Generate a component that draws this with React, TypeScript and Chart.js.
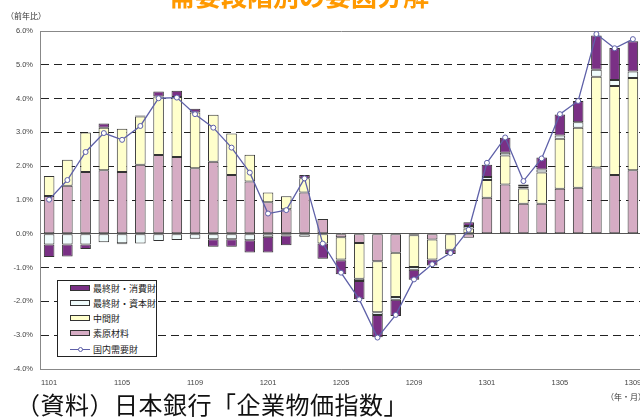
import React, { useEffect, useRef } from 'react';
import { Chart, registerables } from 'chart.js';
Chart.register(...registerables);

const months = [
  '1101', '1102', '1103', '1104', '1105', '1106', '1107', '1108', '1109', '1110', '1111', '1112',
  '1201', '1202', '1203', '1204', '1205', '1206', '1207', '1208', '1209', '1210', '1211', '1212',
  '1301', '1302', '1303', '1304', '1305', '1306', '1307', '1308', '1309',
];

// 素原材料
const rawMaterials = [
  1.12, 1.42, 1.83, 1.88, 1.83, 2.04, 2.33, 2.27, 1.94, 2.13, 1.74, 1.55,
  0.93, 0.73, 1.22, 0.44, -0.10, -0.27, -0.81, -0.56, -0.04, -0.17, null, -0.12,
  1.07, 1.46, 0.89, 0.89, 1.33, 1.36, 1.96, 1.74, 1.88,
];
// 中間財
const intermediate = [
  0.59, 0.77, 1.17, 1.26, 1.28, 1.43, 1.73, 1.78, 1.65, 1.39, 1.23, 0.79,
  0.29, 0.38, 0.42, -0.29, -0.66, -1.06, -1.51, -1.31, -0.94, -0.59, -0.47, 0.16,
  0.52, 0.86, 0.45, 0.92, 1.48, 1.78, 2.69, 2.63, 2.73,
];
// 最終財・資本財
const capitalGoods = [
  -0.32, -0.32, -0.32, -0.25, -0.28, -0.29, -0.21, -0.18, -0.15, -0.16, -0.16, -0.19,
  -0.09, -0.05, -0.09, null, -0.02, -0.07, -0.08, -0.08, -0.08, null, null, 0.07,
  0.09, 0.08, 0.06, 0.09, 0.10, 0.16, 0.20, 0.18, 0.19,
];
// 最終財・消費財
const consumerGoods = [
  -0.37, -0.35, -0.13, 0.12, -0.03, 0.03, 0.15, 0.18, 0.11, -0.22, -0.22, -0.36,
  -0.46, -0.29, 0.10, -0.45, -0.42, -0.54, -0.66, -0.48, -0.30, -0.18, -0.13, 0.11,
  0.36, 0.44, 0.06, 0.36, 0.62, 0.63, 1.02, 0.95, 0.90,
];
// 国内需要財
const domesticDemand = [
  1.01, 1.59, 2.42, 2.98, 2.78, 3.19, 4.01, 4.03, 3.54, 3.14, 2.55, 1.81,
  0.60, 0.70, 1.64, -0.29, -1.15, -1.94, -3.07, -2.40, -1.35, -0.90, -0.57, 0.12,
  2.10, 2.85, 1.56, 2.23, 3.54, 3.93, 5.91, 5.49, 5.76,
];

const yMin = -4;
const yMax = 6;

const COLORS = {
  consumer: '#7a3085',
  capital: '#f0fcfc',
  intermediate: '#ffffcc',
  raw: '#d6acc4',
  line: '#5e60a8',
};

const legendItems = [
  { label: '最終財・消費財', color: COLORS.consumer, type: 'box' },
  { label: '最終財・資本財', color: COLORS.capital, type: 'box' },
  { label: '中間財', color: COLORS.intermediate, type: 'box' },
  { label: '素原材料', color: COLORS.raw, type: 'box' },
  { label: '国内需要財', color: COLORS.line, type: 'line' },
];

const tickFont = { family: "'Liberation Sans', Arial, sans-serif", size: 7.5 };
const jpFont = "'Noto Sans CJK JP', 'Noto Sans', sans-serif";

export default function App() {
  const canvasRef = useRef<HTMLCanvasElement | null>(null);

  useEffect(() => {
    const canvas = canvasRef.current;
    if (!canvas) return;
    const barCommon = {
      type: 'bar' as const,
      stack: 'bars',
      borderColor: '#333',
      borderWidth: 1,
      borderSkipped: false as const,
      barPercentage: 0.58,
      categoryPercentage: 1.0,
      order: 1,
    };
    const chart = new Chart(canvas, {
      type: 'bar',
      data: {
        labels: months,
        datasets: [
          {
            type: 'line',
            label: '国内需要財',
            data: domesticDemand,
            stack: 'line',
            borderColor: COLORS.line,
            borderWidth: 1.3,
            pointRadius: 2.5,
            pointBackgroundColor: '#ffffff',
            pointBorderColor: COLORS.line,
            pointBorderWidth: 1,
            tension: 0,
            order: 0,
          } as any,
          { ...barCommon, label: '素原材料', data: rawMaterials, backgroundColor: COLORS.raw },
          { ...barCommon, label: '中間財', data: intermediate, backgroundColor: COLORS.intermediate },
          { ...barCommon, label: '最終財・資本財', data: capitalGoods, backgroundColor: COLORS.capital },
          { ...barCommon, label: '最終財・消費財', data: consumerGoods, backgroundColor: COLORS.consumer },
        ],
      },
      options: {
        responsive: false,
        animation: false,
        devicePixelRatio: 1,
        layout: { padding: { top: 31, right: 18, left: 0, bottom: 0 } },
        plugins: { legend: { display: false }, tooltip: { enabled: false }, title: { display: false } },
        scales: {
          x: {
            stacked: true,
            grid: { display: false, drawTicks: false },
            border: { display: true, color: '#888', width: 1 },
            ticks: {
              autoSkip: false,
              maxRotation: 0,
              minRotation: 0,
              padding: 9,
              color: '#444',
              font: tickFont,
              callback: (_v: any, i: number) => (i % 4 === 0 ? months[i] : ''),
            },
            afterFit: (s: any) => {
              s.height = 48;
            },
          },
          y: {
            stacked: true,
            min: yMin,
            max: yMax,
            ticks: {
              stepSize: 1,
              padding: 7,
              color: '#444',
              font: tickFont,
              callback: (v: any) => Number(v).toFixed(1) + '%',
            },
            grid: {
              drawTicks: false,
              lineWidth: 1,
              color: (ctx: any) => {
                const v = ctx.tick ? ctx.tick.value : null;
                if (v === 0) return '#555';
                if (v === yMax || v === yMin) return '#888';
                return '#222';
              },
            },
            border: {
              display: true,
              color: '#888',
              width: 1,
              dash: (ctx: any) => {
                const v = ctx.tick ? ctx.tick.value : null;
                if (v === 0 || v === yMax || v === yMin) return [];
                return [8, 5];
              },
            } as any,
            afterFit: (s: any) => {
              s.width = 40;
            },
          },
        },
      } as any,
    });
    return () => chart.destroy();
  }, []);

  return (
    <div
      style={{
        position: 'fixed',
        left: 0,
        top: 0,
        width: 640,
        height: 417,
        overflow: 'hidden',
        background: '#fff',
      }}
    >
      <canvas
        ref={canvasRef}
        width={660}
        height={417}
        style={{ position: 'absolute', left: 0, top: 0, width: 660, height: 417 }}
      />
      <div
        style={{
          position: 'absolute',
          left: 169,
          top: -18,
          fontFamily: jpFont,
          fontWeight: 700,
          fontSize: 26,
          lineHeight: 1,
          color: '#ff9900',
          whiteSpace: 'nowrap',
        }}
      >
        需要段階別の要因分解
      </div>
      <div
        style={{
          position: 'absolute',
          left: 6,
          top: 12,
          fontFamily: jpFont,
          fontSize: 8,
          lineHeight: 1,
          color: '#333',
          whiteSpace: 'nowrap',
        }}
      >
        （前年比）
      </div>
      <div
        style={{
          position: 'absolute',
          left: 606,
          top: 393,
          fontFamily: jpFont,
          fontSize: 8,
          lineHeight: 1,
          color: '#333',
          whiteSpace: 'nowrap',
        }}
      >
        （年・月）
      </div>
      <div
        style={
          {
            position: 'absolute',
            left: 16,
            top: 392,
            fontFamily: jpFont,
            fontSize: 24,
            lineHeight: 1,
            letterSpacing: 0.5,
            color: '#111',
            whiteSpace: 'nowrap',
            textSpacingTrim: 'space-all',
          } as any
        }
      >
        （資料）日本銀行「企業物価指数」
      </div>
      <div
        style={{
          position: 'absolute',
          left: 57,
          top: 280,
          width: 100,
          height: 77,
          boxSizing: 'border-box',
          border: '1px solid #222',
          background: '#fff',
        }}
      >
        {legendItems.map((it, i) => {
          const cy = [7, 22, 37, 52, 68][i];
          return (
            <div key={it.label} style={{ position: 'absolute', left: 0, top: cy - 6, width: 98, height: 12 }}>
              {it.type === 'box' ? (
                <div
                  style={{
                    position: 'absolute',
                    left: 12,
                    top: 3,
                    width: 20,
                    height: 6,
                    boxSizing: 'border-box',
                    border: '1px solid #333',
                    background: it.color,
                  }}
                />
              ) : (
                <>
                  <div
                    style={{
                      position: 'absolute',
                      left: 12,
                      top: 5.5,
                      width: 20,
                      height: 1.2,
                      background: it.color,
                    }}
                  />
                  <div
                    style={{
                      position: 'absolute',
                      left: 19.5,
                      top: 3.5,
                      width: 5,
                      height: 5,
                      boxSizing: 'border-box',
                      borderRadius: '50%',
                      border: `1px solid ${it.color}`,
                      background: '#fff',
                    }}
                  />
                </>
              )}
              <div
                style={{
                  position: 'absolute',
                  left: 35,
                  top: 0.5,
                  fontFamily: jpFont,
                  fontSize: 9,
                  lineHeight: '11px',
                  color: '#222',
                  whiteSpace: 'nowrap',
                }}
              >
                {it.label}
              </div>
            </div>
          );
        })}
      </div>
    </div>
  );
}
